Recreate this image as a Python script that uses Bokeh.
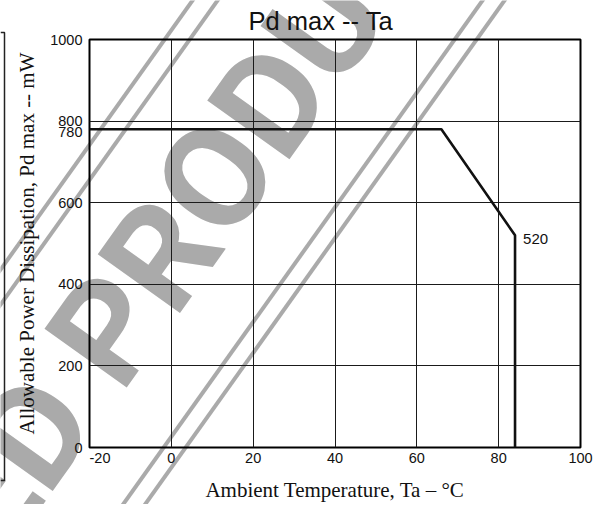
import math
from bokeh.plotting import figure
from bokeh.models import Label, Arrow, FixedTicker, Range1d
from bokeh.embed import file_html
from bokeh.resources import INLINE

# ---- data ----
ta = [-20, 66, 84, 84]            # ambient temperature (deg C)
pd_max = [780, 780, 520, 0]       # allowable power dissipation (mW)
x_ticks = [-20, 0, 20, 40, 60, 80, 100]
y_ticks = [0, 200, 400, 600, 800, 1000]
flat_value = 780
end_value = 520
end_temp = 84

TITLE = "Pd max -- Ta"
XLABEL = "Ambient Temperature, Ta \u2013 \u00b0C"
YLABEL = "Allowable Power Dissipation, Pd max -- mW"
WM_LEFT = "DISCONTINUED"
WM_RIGHT = "PRODUCT"

SANS = "Liberation Sans"
SERIF = "Liberation Serif"
WM_FONT = "Roboto"
GRAY = "#aaaaaa"
INK = "#111111"

# ---- layout geometry (pixels) ----
W, H = 604, 504
BL, BT = 89, 39            # frame left / top
FW, FH = 491, 408          # frame width / height
BR, BB = W - BL - FW, H - BT - FH
X0, X1 = -20, 100
Y0, Y1 = 0, 1000
sx = (X1 - X0) / FW        # data units per pixel
sy = (Y1 - Y0) / FH

p = figure(width=W, height=H, x_range=(X0, X1), y_range=(Y0, Y1),
           output_backend="svg", toolbar_location=None,
           min_border_left=BL, min_border_right=BR,
           min_border_top=BT, min_border_bottom=BB)
p.background_fill_color = None
p.border_fill_color = None
p.outline_line_color = "black"
p.outline_line_width = 2

p.title.text = TITLE
p.title.text_font = SANS
p.title.text_font_size = "25.5px"
p.title.text_font_style = "normal"
p.title.text_color = INK
p.title.align = "left"
p.title.offset = 159
p.title.standoff = 9

for ax in (p.xaxis[0], p.yaxis[0]):
    ax.axis_line_color = None
    ax.major_tick_in = 0
    ax.major_tick_out = 0
    ax.minor_tick_in = 0
    ax.minor_tick_out = 0
    ax.major_label_text_font = SANS
    ax.major_label_text_font_size = "14.5px"
    ax.major_label_text_color = INK
    ax.axis_label_text_font = SERIF
    ax.axis_label_text_font_size = "21px"
    ax.axis_label_text_font_style = "normal"
    ax.axis_label_text_color = INK

p.xaxis.ticker = FixedTicker(ticks=x_ticks)
p.yaxis.ticker = FixedTicker(ticks=y_ticks)
p.xaxis.major_label_overrides = {x_ticks[0]: ""}
p.xaxis.major_label_standoff = 5
p.yaxis.major_label_standoff = 7
p.xaxis.axis_label = XLABEL
p.yaxis.axis_label = YLABEL
p.xaxis.axis_label_standoff = 12
p.yaxis.axis_label_standoff = 8

p.xgrid.ticker = FixedTicker(ticks=x_ticks)
p.ygrid.ticker = FixedTicker(ticks=y_ticks)
for g in (p.xgrid[0], p.ygrid[0]):
    g.grid_line_color = "#1a1a1a"
    g.grid_line_width = 1
    g.grid_line_alpha = 1

p.line(ta, pd_max, line_color=INK, line_width=2.6)
p.add_layout(Label(x=end_temp, y=end_value, text=str(end_value),
                   x_offset=8, y_offset=-4, text_align="left", text_baseline="middle",
                   text_font=SANS, text_font_size="15px", text_color=INK))

# ---- background layer: same data scale, frame covering the whole canvas ----
bg = figure(width=W, height=H,
            x_range=Range1d(X0 - BL * sx, X1 + BR * sx),
            y_range=Range1d(Y0 - BB * sy, Y1 + BT * sy),
            x_axis_type=None, y_axis_type=None,
            output_backend="svg", toolbar_location=None,
            min_border=0, min_border_left=0, min_border_right=0,
            min_border_top=0, min_border_bottom=0)
bg.outline_line_color = None
bg.background_fill_color = "white"
bg.border_fill_color = "white"

def dx(px):
    return X0 + (px - BL) * sx

def dy(py):
    return Y1 - (py - BT) * sy

# watermark (decoration, page pixels of the reference)
ANG = 54.5
WM_SIZE = 142
P_START = (81.5, 366)         # anchor of "PRODUCT"
GAP = 35                      # word space, pixels along the baseline
ux, uy = math.cos(math.radians(ANG)), -math.sin(math.radians(ANG))
wm_style = dict(angle=ANG, angle_units="deg", text_baseline="alphabetic",
                text_font=WM_FONT, text_font_style="bold",
                text_font_size=f"{WM_SIZE}px", text_color=GRAY, level="image")
bg.add_layout(Label(x=dx(P_START[0]), y=dy(P_START[1]), text=WM_RIGHT,
                    text_align="left", **wm_style))
bg.add_layout(Label(x=dx(P_START[0] - GAP * ux), y=dy(P_START[1] - GAP * uy),
                    text=WM_LEFT, text_align="right", **wm_style))

# stripes: x where each stripe meets the page top
slope = math.tan(math.radians(ANG))
stripes = [192, 217, 482, 504]
for x0 in stripes:
    ya, yb = -20, 525
    bg.add_layout(Arrow(end=None, x_start=dx(x0 - ya / slope), y_start=dy(ya),
                        x_end=dx(x0 - yb / slope), y_end=dy(yb),
                        line_color=GRAY, line_width=4, level="image"))
# page border at the far left
bg.line([dx(0), dx(4), dx(4), dx(0)], [dy(32), dy(32), dy(480), dy(480)],
        line_color="#222222", line_width=1.5)

# tick-style labels that sit outside the chart frame
bg.add_layout(Label(x=X0, y=flat_value, text=str(flat_value),
                    x_offset=-7, y_offset=-3, text_align="right", text_baseline="middle",
                    text_font=SANS, text_font_size="14.5px", text_color=INK))
bg.add_layout(Label(x=X0, y=Y0, text=str(x_ticks[0]),
                    x_offset=0, y_offset=-5, text_align="left", text_baseline="top",
                    text_font=SANS, text_font_size="14.5px", text_color=INK))

bg.styles = {"position": "absolute", "left": "0px", "top": "0px", "z-index": "0"}
p.styles = {"position": "absolute", "left": "0px", "top": "0px", "z-index": "1"}

open("out.html", "w").write(file_html([bg, p], INLINE))
